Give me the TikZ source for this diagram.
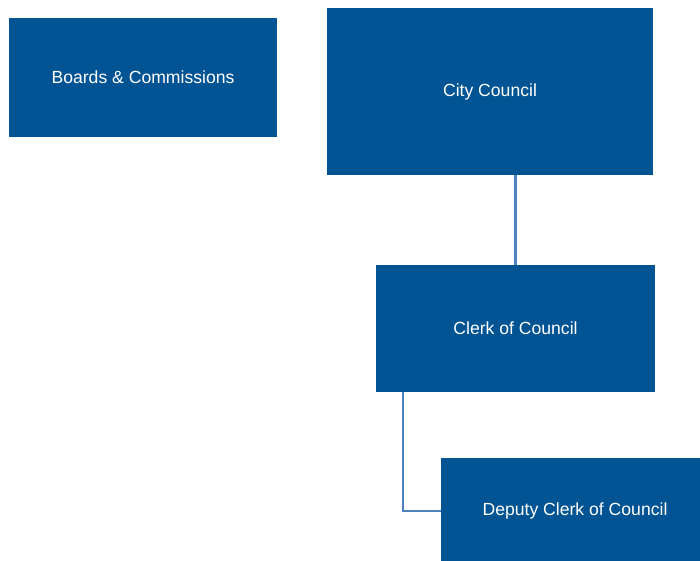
\documentclass[tikz,border=0pt]{standalone}
\usepackage{fontspec}
\setmainfont{Liberation Sans}
\usepackage{tikz}
\usetikzlibrary{positioning}
\definecolor{boxColor}{RGB}{0,84,147}
\definecolor{linkColor}{RGB}{79,129,189}
\tikzstyle{chart} = [x = 1pt, y = -1pt]
\tikzstyle{officeBox} = [fill=boxColor, text=white, inner sep=0pt, font=\fontsize{17.6}{20}\selectfont]
\tikzstyle{linkLine} = [color=linkColor, line width=2.4pt]
\begin{document}
\begin{tikzpicture}[chart]
  \clip (0,0) rectangle (700,560);
  \useasboundingbox (0,0) rectangle (700,560);
  \node [officeBox, minimum width=268pt, minimum height=119pt] (boards) at (143,77.5) {Boards \& Commissions};
  \node [officeBox, minimum width=326pt, minimum height=167pt] (council) at (490,91.5) {City Council};
  \node [officeBox, minimum width=279pt, minimum height=127pt] (clerk) at (515.5,328.5) {Clerk of Council};
  \node [officeBox, minimum width=268pt, minimum height=106pt] (deputy) at (575,511) {Deputy Clerk of Council};
  \draw [linkLine] (clerk.north |- council.south) -- (clerk.north);
  \draw [linkLine] ([xshift=27pt]clerk.south west) |- (deputy.west);
\end{tikzpicture}
\end{document}
